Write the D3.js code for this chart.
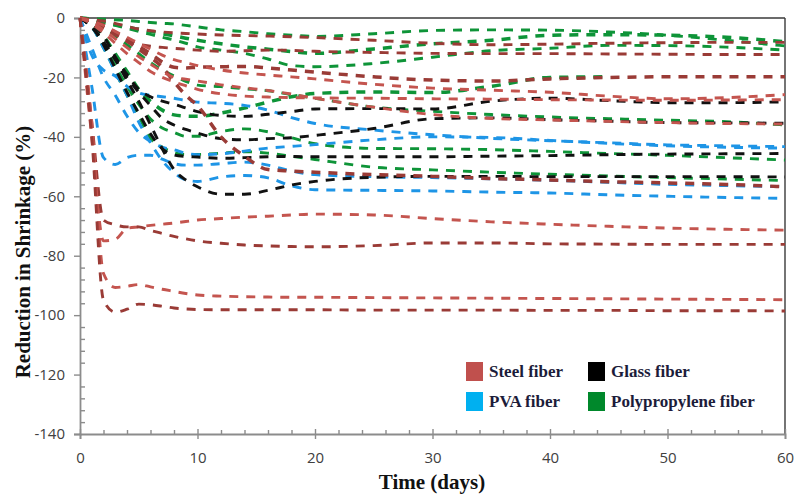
<!DOCTYPE html>
<html>
<head>
<meta charset="utf-8">
<script src="https://cdn.jsdelivr.net/npm/d3@7/dist/d3.min.js"></script>
<style>
  html, body { margin: 0; padding: 0; background: #fff; }
  svg { display: block; }
</style>
</head>
<body>
<svg id="chart" width="795" height="498"></svg>
<script>
// Sampling days shared by every curve
const days = [0, 1, 2, 3, 4, 5, 6, 7, 8, 9, 10, 12, 14, 16, 18, 20, 25, 30, 35, 40, 45, 50, 55, 60];

// Steel fiber mixes (%)
const steelA = [0,-0.5,-1,-1.8,-2.8,-3.7,-4.3,-4.7,-5,-5.2,-5.4,-5.7,-5.9,-6.1,-6.3,-6.6,-7.5,-8.5,-9,-8.8,-8.5,-8.3,-8.2,-8.2];
const steelB = [0,-1,-3,-5.5,-7.5,-8.8,-9.5,-9.9,-10.2,-10.5,-10.8,-11.2,-11,-10.8,-10.9,-11.2,-11.6,-11.9,-12,-12,-12.1,-12.2,-12.3,-12.3];
const steelC = [0,-1,-2.5,-4.8,-7,-9.5,-12,-14.8,-16.6,-16.8,-16.6,-16.4,-16.3,-16.8,-17.5,-18.2,-19.8,-20.9,-21.2,-20.5,-20,-19.8,-19.8,-19.8];
const steelD = [0,-1.5,-3.5,-5.5,-7.8,-10.5,-13.3,-16.5,-21.5,-26,-29.5,-40,-46.5,-51,-51.5,-51.9,-52.7,-53.3,-54,-54.5,-55.1,-55.5,-56,-56.8];
const steelE = [0,-1,-2.5,-4.5,-6.5,-8.5,-10.5,-12.5,-14,-15,-16,-17.5,-18.5,-19.2,-19.8,-20.5,-22.3,-23.6,-24.3,-25,-26.3,-27.2,-26.8,-25.8];
const steelF = [0,-1.5,-4,-7,-10,-13,-15.5,-18,-20,-20.6,-21.2,-22.5,-23.5,-24.4,-25.6,-27,-30,-32.5,-33.8,-34.3,-34.8,-35.2,-35.5,-35.7];
const steelG = [0,-2,-5,-8.5,-12,-15,-18,-20,-21.5,-22.8,-24,-25.5,-26.3,-26.6,-26.8,-26.9,-27,-27.2,-27.3,-27.5,-27.6,-27.7,-27.6,-27.5];
const steelH = [0,-40,-75,-74.5,-70.8,-70.3,-69.8,-69.4,-69,-68.5,-68,-67.5,-67,-66.7,-66.3,-66,-66.3,-67.5,-68.6,-69.4,-70.1,-70.7,-71.1,-71.4];
const steelI = [0,-35,-68,-69.6,-70.3,-70.3,-71.5,-72.5,-73.5,-74.3,-75,-75.8,-76.4,-76.7,-76.9,-77,-76.6,-75.7,-75.7,-76,-76.1,-76.2,-76.2,-76.2];
const steelJ = [0,-35,-86,-90.7,-90.3,-89.7,-90.5,-91.3,-92,-92.7,-93.2,-93.6,-93.8,-93.9,-94,-94,-94.1,-94.2,-94.3,-94.4,-94.5,-94.6,-94.7,-94.8];
const steelK = [0,-40,-95,-99,-98,-96.3,-96.5,-97,-97.6,-97.9,-98.1,-98.2,-98.2,-98.2,-98.2,-98.2,-98.3,-98.3,-98.3,-98.4,-98.4,-98.5,-98.5,-98.6];

// PVA fiber mixes (%)
const pvaA = [0,-12.5,-17.5,-19.5,-23,-25.2,-26,-26.5,-27,-27.8,-28.3,-28.7,-29.4,-31,-33.5,-35.5,-37.7,-39.3,-40.5,-41.3,-42,-42.7,-43,-43.3];
const pvaB = [0,-10,-20,-26,-33,-38.5,-41.6,-43.5,-44.3,-45.5,-46,-45.7,-44.8,-43.8,-43.2,-42.6,-41,-40,-40.2,-41.2,-42.2,-43,-43.5,-43.8];
const pvaC = [0,-23,-47,-49.3,-47,-46.2,-46.2,-47.5,-49,-49.5,-49.5,-49,-48.5,-49.5,-51.5,-52.7,-53.4,-53.7,-54.1,-54.6,-55.3,-56,-56.4,-56.8];
const pvaD = [0,-3,-10,-18,-26,-35,-42,-48,-52,-54.5,-55,-53.5,-53,-53.8,-56.5,-57.8,-58,-58.2,-58.6,-58.9,-59.5,-60,-60.4,-60.7];

// Glass fiber mixes (%)
const glassA = [0,-2,-6,-13,-19,-24,-26.5,-28,-29,-30.3,-31.5,-32.8,-33.1,-32.4,-31.5,-30.6,-30.5,-30.6,-28,-27,-27.8,-28.5,-28.5,-28.2];
const glassB = [0,-3,-8,-14,-20,-25,-29.5,-33.8,-36,-37.5,-38.7,-40.6,-41,-40.6,-40.3,-39.5,-37.2,-33.9,-33.6,-34.2,-34.7,-35.2,-35.3,-35.4];
const glassC = [0,-3,-9,-17,-25,-32,-39,-44,-46.1,-46.6,-46.8,-47.2,-47,-46.7,-46.6,-46.7,-46.7,-46.7,-46.5,-46.3,-46,-45.8,-45.7,-45.6];
const glassD = [0,-3,-8,-14,-21,-28,-36,-44,-51,-54.5,-56.8,-59.3,-59.3,-58,-56.2,-55,-53.6,-53.3,-53.3,-53.4,-53.4,-53.4,-53.4,-53.5];

// Polypropylene fiber mixes (%), null = not measured
const ppA = [0,-0.2,-0.4,-0.6,-0.8,-1.2,-1.5,-1.8,-2,-2.5,-3,-4,-4.6,-5.3,-5.8,-6.2,-5.3,-4.2,-4,-4.1,-4.7,-5.8,-7.5,-9.4];
const ppB = [0,-0.5,-1.5,-2.3,-3,-3.8,-4.5,-5.3,-6,-6.8,-7.5,-8.7,-9.7,-10.5,-11.3,-11.9,-10.4,-8.7,-7.5,-5.8,-5.6,-5.8,-6.5,-8];
const ppC = [0,-0.8,-1.5,-2.5,-3.5,-4.5,-5.5,-6.5,-7.4,-8.5,-9.7,-10.8,-11.9,-13.8,-16,-16.4,-15.3,-13.2,-11,-10.2,-9.2,-9.3,-9.8,-10.8];
const ppD = [0,-2,-6,-12,-18,-24,-28,-31,-32.6,-33,-33.1,-32,-30.3,-28.3,-26.5,-25.4,-24.9,-25.1,-23,-20,-19.8,null,null,null];
const ppE = [0,-1,-3,-6,-9,-12,-15,-17.5,-19.5,-21.3,-22.6,-23.1,-23.8,-24.5,-25.8,-27,-30,-31.4,-32.5,-33.3,-33.9,-34.4,-34.9,-36];
const ppF = [0,-3,-9,-16,-23,-29,-34,-37,-38.5,-39.8,-39.8,-38.2,-37.3,-38.3,-40.3,-42.3,-43.9,-44,-44.3,-44.9,-45.6,-46.2,-47,-47.8];
const ppG = [0,-3,-10,-18,-26,-33,-40.5,-43.5,-45.3,-45.9,-45.9,-45.5,-45,-45.5,-46.5,-47.6,-50.2,-51.1,-51.9,-52.6,-53.2,-53.7,-54.2,-54.7];

// Axis ticks
const xTicks = [0, 10, 20, 30, 40, 50, 60];
const yTicks = [0, -20, -40, -60, -80, -100, -120, -140];

// Legend entries
const legendItems = [
  { label: "Steel fiber", key: "steel" },
  { label: "Glass fiber", key: "glass" },
  { label: "PVA fiber", key: "pva" },
  { label: "Polypropylene fiber", key: "pp" }
];

// Series assembled from the arrays above (drawing order: bottom to top)
const series = [
  { kind: "pp", values: ppA }, { kind: "pp", values: ppB, heavy: true },
  { kind: "pp", values: ppC }, { kind: "pp", values: ppD, heavy: true },
  { kind: "pp", values: ppE }, { kind: "pp", values: ppF }, { kind: "pp", values: ppG },
  { kind: "pva", values: pvaA }, { kind: "pva", values: pvaB },
  { kind: "pva", values: pvaC }, { kind: "pva", values: pvaD },
  { kind: "glass", values: glassA }, { kind: "glass", values: glassB },
  { kind: "glass", values: glassC }, { kind: "glass", values: glassD },
  { kind: "steelDark", values: steelA }, { kind: "steelDark", values: steelB },
  { kind: "steelDark", values: steelC, heavy: true }, { kind: "steelDark", values: steelD, heavy: true },
  { kind: "steelLight", values: steelE }, { kind: "steelLight", values: steelF },
  { kind: "steelLight", values: steelG }, { kind: "steelLight", values: steelH },
  { kind: "steelDark", values: steelI }, { kind: "steelLight", values: steelJ },
  { kind: "steelDark", values: steelK }
];

const lineColor = {
  steelLight: "#C4554F", steelDark: "#9A3B36", pva: "#1E95E6", glass: "#111111", pp: "#0E9438"
};
const legendColor = { steel: "#C0504D", glass: "#000000", pva: "#00B0F0", pp: "#00882B" };

const svg = d3.select("#chart");
const plot = { left: 80, right: 785, top: 18, bottom: 434 };

const x = d3.scaleLinear().domain([0, 60]).range([plot.left, plot.right]);
const y = d3.scaleLinear().domain([-140, 0]).range([plot.bottom, plot.top]);

const axisGray = "#8C8C8C";
const labelFont = "'Open Sans', 'Liberation Sans', sans-serif";
const titleFont = "'Liberation Serif', 'Times New Roman', serif";
const plainNumber = d => String(d);

// Plot frame: top and right edges
svg.append("line")
  .attr("x1", plot.left).attr("x2", plot.right)
  .attr("y1", y(0)).attr("y2", y(0))
  .attr("stroke", "#3a3a3a").attr("stroke-width", 1.6);
svg.append("line")
  .attr("x1", plot.right).attr("x2", plot.right)
  .attr("y1", plot.top).attr("y2", plot.bottom)
  .attr("stroke", "#3a3a3a").attr("stroke-width", 1.4);

// Y axis: major ticks outward, minor ticks inward
svg.append("g").attr("transform", `translate(${plot.left},0)`)
  .call(d3.axisLeft(y).tickValues(yTicks).tickSize(6).tickPadding(9).tickFormat(plainNumber));
const yMinor = d3.range(-140, 0.1, 4).filter(v => v % 20 !== 0);
svg.append("g").attr("transform", `translate(${plot.left},0)`)
  .call(d3.axisRight(y).tickValues(yMinor).tickSize(5).tickFormat(""))
  .call(g => g.select(".domain").remove());

// X axis: major ticks crossing, minor ticks inward
const xAxis = svg.append("g").attr("transform", `translate(0,${plot.bottom})`)
  .call(d3.axisBottom(x).tickValues(xTicks).tickSize(5).tickPadding(13).tickFormat(plainNumber));
xAxis.selectAll(".tick line").attr("y1", -5);
const xMinor = d3.range(0, 60.1, 2).filter(v => v % 10 !== 0);
svg.append("g").attr("transform", `translate(0,${plot.bottom})`)
  .call(d3.axisTop(x).tickValues(xMinor).tickSize(4).tickFormat(""))
  .call(g => g.select(".domain").remove());

svg.selectAll(".domain").attr("stroke", axisGray).attr("stroke-width", 1.8);
svg.selectAll(".tick line").attr("stroke", axisGray).attr("stroke-width", 1.4);
svg.selectAll(".tick text")
  .attr("fill", "#404040")
  .style("font-family", labelFont)
  .style("font-size", "15px");

// Curves
const line = d3.line()
  .defined(d => d[1] !== null)
  .x(d => x(d[0]))
  .y(d => y(d[1]))
  .curve(d3.curveMonotoneX);

const curves = svg.append("g").attr("fill", "none");
series.forEach(s => {
  const pts = days.map((t, i) => [t, s.values[i]]);
  curves.append("path")
    .attr("d", line(pts))
    .attr("stroke", lineColor[s.kind])
    .attr("stroke-width", s.heavy ? 3.5 : 2.9)
    .attr("stroke-dasharray", "9,8")
    .attr("stroke-linejoin", "round");
});

// Axis titles
svg.append("text")
  .attr("transform", `translate(30,252) rotate(-90)`)
  .attr("text-anchor", "middle")
  .style("font-family", titleFont).style("font-weight", "bold").style("font-size", "21px")
  .attr("fill", "#111")
  .text("Reduction in Shrinkage (%)");

svg.append("text")
  .attr("x", 432).attr("y", 489)
  .attr("text-anchor", "middle")
  .style("font-family", titleFont).style("font-weight", "bold").style("font-size", "21px")
  .attr("fill", "#111")
  .text("Time (days)");

// Legend (two columns, two rows)
const legend = svg.append("g");
legendItems.forEach((item, i) => {
  const col = i % 2, row = Math.floor(i / 2);
  const bx = col === 0 ? 466 : 588;
  const by = row === 0 ? 362 : 392;
  legend.append("rect")
    .attr("x", bx).attr("y", by).attr("width", 17).attr("height", 19)
    .attr("fill", legendColor[item.key]);
  legend.append("text")
    .attr("x", bx + 23).attr("y", by + 15)
    .style("font-family", titleFont).style("font-weight", "bold").style("font-size", "17px")
    .attr("fill", "#1c1c3a")
    .text(item.label);
});
</script>
</body>
</html>
